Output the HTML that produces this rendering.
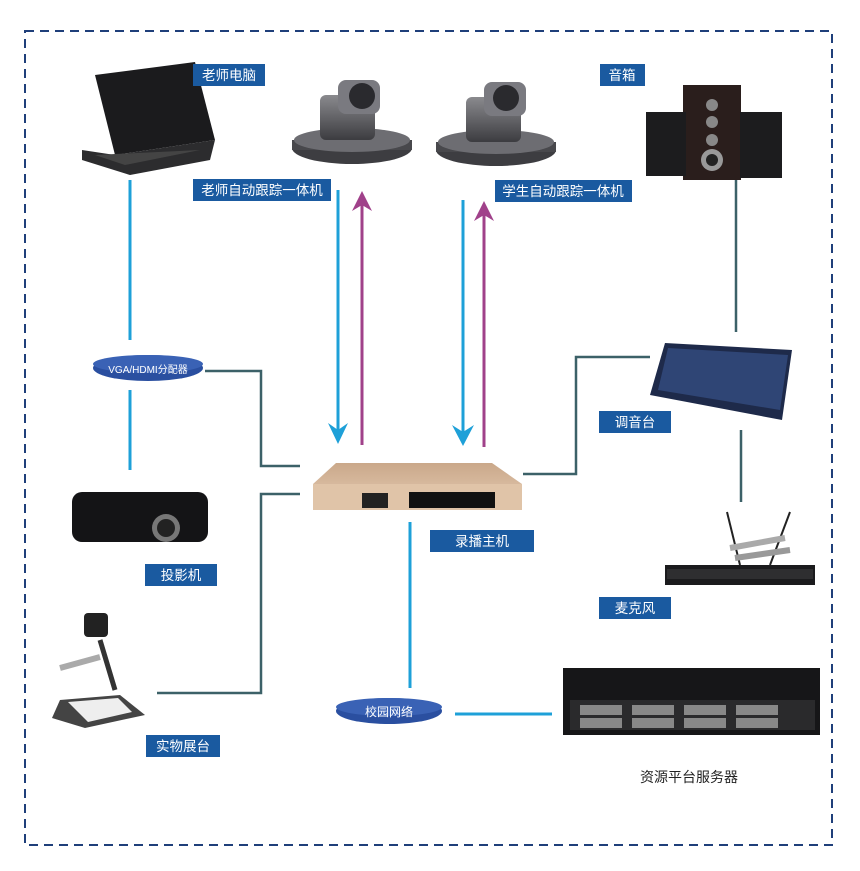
<!DOCTYPE html>
<html><head><meta charset="utf-8"><style>
body{margin:0;background:#fff}
svg{display:block}
text{font-family:"Liberation Sans","Noto Sans CJK SC",sans-serif}
</style></head><body>
<svg width="860" height="871" viewBox="0 0 860 871" xmlns="http://www.w3.org/2000/svg">
<defs>
<linearGradient id="tan" x1="0" y1="0" x2="0" y2="1"><stop offset="0" stop-color="#caa88a"/><stop offset="1" stop-color="#e6cdb5"/></linearGradient>
<linearGradient id="cam" x1="0" y1="0" x2="0" y2="1"><stop offset="0" stop-color="#8a8a8e"/><stop offset="1" stop-color="#3c3c40"/></linearGradient>
</defs>
<rect x="25" y="31" width="807" height="814" fill="none" stroke="#1f3f7a" stroke-width="2" stroke-dasharray="9,6"/>

<!-- connectors -->
<g stroke="#1ea0d8" stroke-width="3" fill="none">
<line x1="130" y1="180" x2="130" y2="340"/>
<line x1="130" y1="390" x2="130" y2="470"/>
<line x1="410" y1="522" x2="410" y2="688"/>
<line x1="455" y1="714" x2="552" y2="714"/>
<line x1="338" y1="190" x2="338" y2="430"/>
<line x1="463" y1="200" x2="463" y2="432"/>
</g>
<g fill="#1ea0d8">
<polygon points="328,423 338,444 348,423 338,430"/>
<polygon points="452,425 463,446 474,425 463,432"/>
</g>
<g stroke="#a0418a" stroke-width="3">
<line x1="362" y1="445" x2="362" y2="205"/>
<line x1="484" y1="447" x2="484" y2="215"/>
</g>
<g fill="#a0418a">
<polygon points="352,211 362,191 372,211 362,205"/>
<polygon points="474,221 484,201 494,221 484,215"/>
</g>
<g stroke="#3c6168" stroke-width="2.5" fill="none">
<polyline points="205,371 261,371 261,466 300,466"/>
<polyline points="300,494 261,494 261,693 157,693"/>
<polyline points="523,474 576,474 576,357 650,357"/>
<line x1="736" y1="180" x2="736" y2="332"/>
<line x1="741" y1="430" x2="741" y2="502"/>
</g>

<!-- laptop -->
<polygon points="95,75 195,62 215,140 115,155" fill="#1b1b1d"/>
<polygon points="82,150 115,155 215,140 210,160 130,175 82,160" fill="#2c2c2e"/>
<polygon points="95,155 125,165 200,150" fill="#444"/>
<!-- cameras -->
<g>
<ellipse cx="352" cy="148" rx="60" ry="16" fill="#3d3d41"/>
<rect x="292" y="140" width="120" height="10" fill="#48484c"/>
<ellipse cx="352" cy="140" rx="58" ry="12" fill="#6d6d72"/>
<rect x="320" y="95" width="55" height="45" rx="6" fill="url(#cam)"/>
<rect x="338" y="80" width="42" height="34" rx="8" fill="#7a7a80"/>
<circle cx="362" cy="96" r="13" fill="#2a2a2e"/>
</g>
<g>
<ellipse cx="496" cy="150" rx="60" ry="16" fill="#3d3d41"/>
<rect x="436" y="142" width="120" height="10" fill="#48484c"/>
<ellipse cx="496" cy="142" rx="58" ry="12" fill="#6d6d72"/>
<rect x="466" y="97" width="55" height="45" rx="6" fill="url(#cam)"/>
<rect x="484" y="82" width="42" height="34" rx="8" fill="#7a7a80"/>
<circle cx="506" cy="98" r="13" fill="#2a2a2e"/>
</g>
<!-- speakers -->
<rect x="683" y="85" width="58" height="95" fill="#2a1e1c"/>
<circle cx="712" cy="105" r="6" fill="#888"/><circle cx="712" cy="122" r="6" fill="#888"/><circle cx="712" cy="140" r="6" fill="#888"/>
<circle cx="712" cy="160" r="11" fill="#999"/><circle cx="712" cy="160" r="6" fill="#222"/>
<rect x="646" y="112" width="40" height="64" fill="#1c1c1e"/>
<rect x="740" y="112" width="42" height="66" fill="#1c1c1e"/>
<!-- mixer -->
<polygon points="665,343 792,350 782,420 650,395" fill="#1e2a4a"/>
<polygon points="668,348 788,355 780,410 658,390" fill="#2f4575"/>
<!-- recorder -->
<polygon points="336,463 492,463 522,484 522,510 313,510 313,484" fill="url(#tan)"/>
<rect x="313" y="484" width="209" height="26" fill="#e0c4a8"/>
<rect x="362" y="493" width="26" height="15" fill="#222"/>
<rect x="409" y="492" width="86" height="16" fill="#111"/>
<!-- projector -->
<rect x="72" y="492" width="136" height="50" rx="10" fill="#141416"/>
<circle cx="166" cy="528" r="14" fill="#777"/><circle cx="166" cy="528" r="9" fill="#222"/>
<!-- document camera -->
<rect x="84" y="613" width="24" height="24" rx="4" fill="#222"/>
<line x1="100" y1="640" x2="115" y2="690" stroke="#333" stroke-width="5"/>
<polygon points="60,700 120,695 145,715 85,728 52,718" fill="#444"/>
<polygon points="68,702 118,698 132,712 88,722" fill="#eee"/>
<line x1="60" y1="668" x2="100" y2="657" stroke="#aaa" stroke-width="6"/>
<!-- mics -->
<rect x="665" y="565" width="150" height="20" fill="#1b1b1d"/>
<rect x="667" y="569" width="146" height="10" fill="#2e2e30"/>
<line x1="727" y1="512" x2="740" y2="565" stroke="#222" stroke-width="2"/>
<line x1="790" y1="512" x2="770" y2="565" stroke="#222" stroke-width="2"/>
<line x1="735" y1="558" x2="790" y2="550" stroke="#999" stroke-width="6"/>
<line x1="730" y1="548" x2="785" y2="538" stroke="#aaa" stroke-width="6"/>
<!-- server -->
<rect x="563" y="668" width="257" height="67" fill="#161618"/>
<rect x="570" y="700" width="245" height="30" fill="#2a2a2c"/>
<g fill="#888"><rect x="580" y="705" width="42" height="10"/><rect x="632" y="705" width="42" height="10"/><rect x="684" y="705" width="42" height="10"/><rect x="736" y="705" width="42" height="10"/><rect x="580" y="718" width="42" height="10"/><rect x="632" y="718" width="42" height="10"/><rect x="684" y="718" width="42" height="10"/><rect x="736" y="718" width="42" height="10"/></g>

<!-- labels -->
<g fill="#1a5aa0">
<rect x="193" y="64" width="72" height="22"/>
<rect x="600" y="64" width="45" height="22"/>
<rect x="193" y="179" width="138" height="22"/>
<rect x="495" y="180" width="137" height="22"/>
<rect x="599" y="411" width="72" height="22"/>
<rect x="430" y="530" width="104" height="22"/>
<rect x="145" y="564" width="72" height="22"/>
<rect x="599" y="597" width="72" height="22"/>
<rect x="146" y="735" width="74" height="22"/>
</g>
<g fill="#fff" font-size="13.5">
<text x="229" y="80" text-anchor="middle">老师电脑</text>
<text x="622" y="80" text-anchor="middle">音箱</text>
<text x="262" y="195" text-anchor="middle">老师自动跟踪一体机</text>
<text x="563" y="196" text-anchor="middle">学生自动跟踪一体机</text>
<text x="635" y="427" text-anchor="middle">调音台</text>
<text x="482" y="546" text-anchor="middle">录播主机</text>
<text x="181" y="580" text-anchor="middle">投影机</text>
<text x="635" y="613" text-anchor="middle">麦克风</text>
<text x="183" y="751" text-anchor="middle">实物展台</text>
</g>
<text x="689" y="782" text-anchor="middle" font-size="14" fill="#222">资源平台服务器</text>

<ellipse cx="148" cy="368" rx="55" ry="13" fill="#2a4fa0"/>
<ellipse cx="148" cy="364" rx="55" ry="9" fill="#3a62b5"/>
<text x="148" y="373" text-anchor="middle" font-size="10" fill="#fff">VGA/HDMI分配器</text>
<ellipse cx="389" cy="711" rx="53" ry="13" fill="#2a4fa0"/>
<ellipse cx="389" cy="707" rx="53" ry="9" fill="#3a62b5"/>
<text x="389" y="716" text-anchor="middle" font-size="12" fill="#fff">校园网络</text>
</svg>
</body></html>
